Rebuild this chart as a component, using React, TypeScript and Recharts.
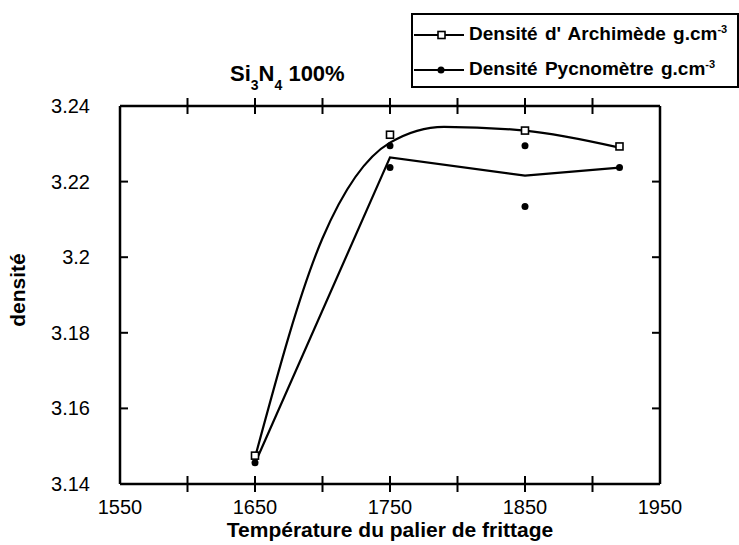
import React from 'react'
import { ComposedChart, Line, Scatter, XAxis, YAxis, Legend, Label } from 'recharts'

const FONT = '"Liberation Sans", Arial, Helvetica, sans-serif'

const archiTemps = [1650, 1750, 1850, 1920]
const archiValues = [3.1475, 3.2324, 3.2335, 3.2293]
const pycnoTemps = [1650, 1750, 1750, 1850, 1850, 1920]
const pycnoValues = [3.1456, 3.2295, 3.2237, 3.2295, 3.2134, 3.2237]

// drawn curves
const archiFitTemps = [1650, 1700, 1750, 1790, 1850, 1920]
const archiFitValues = [3.147, 3.205, 3.2303, 3.2345, 3.2335, 3.229]
const pycnoMeanTemps = [1650, 1750, 1850, 1920]
const pycnoMeanValues = [3.1455, 3.2264, 3.2216, 3.2237]

const xTicks = [1550, 1600, 1650, 1700, 1750, 1800, 1850, 1900, 1950]
const yTicks = [3.14, 3.16, 3.18, 3.2, 3.22, 3.24]

const zip = (ts: number[], vs: number[]) => ts.map((t, i) => ({ t, d: vs[i] }))

const archiData = zip(archiTemps, archiValues)
const pycnoData = zip(pycnoTemps, pycnoValues)
const archiFit = zip(archiFitTemps, archiFitValues)
const pycnoMean = zip(pycnoMeanTemps, pycnoMeanValues)

const BottomTick = (props: any) => {
  const { x, y, payload } = props
  const v = payload.value
  const inner = v !== 1550 && v !== 1950
  return (
    <g>
      {inner && <line x1={x} x2={x} y1={y - 8} y2={y + 8} stroke="#000" strokeWidth={2} />}
      {(v - 1550) % 100 === 0 && (
        <text x={x} y={y + 30} textAnchor="middle" fontSize={20} fontFamily={FONT} fill="#000">
          {v}
        </text>
      )}
    </g>
  )
}

const TopTick = (props: any) => {
  const { x, y, payload } = props
  if (payload.value === 1550 || payload.value === 1950) return <g />
  return <line x1={x} x2={x} y1={y - 8} y2={y + 8} stroke="#000" strokeWidth={2} />
}

const LeftTick = (props: any) => {
  const { x, y, payload } = props
  const v = payload.value
  const inner = v !== 3.14 && v !== 3.24
  return (
    <g>
      {inner && <line x1={x} x2={x + 8} y1={y} y2={y} stroke="#000" strokeWidth={2} />}
      <text x={x - 30} y={y + 7} textAnchor="end" fontSize={20} fontFamily={FONT} fill="#000">
        {v}
      </text>
    </g>
  )
}

const RightTick = (props: any) => {
  const { x, y, payload } = props
  if (payload.value === 3.14 || payload.value === 3.24) return <g />
  return <line x1={x - 8} x2={x} y1={y} y2={y} stroke="#000" strokeWidth={2} />
}

const TitleLabel = (props: any) => {
  const { viewBox } = props
  return (
    <text x={viewBox.x + 110} y={viewBox.y - 15} fontSize={22} fontWeight="bold" fontFamily={FONT} fill="#000">
      <tspan>Si</tspan>
      <tspan fontSize={14} dy={9}>3</tspan>
      <tspan dy={-9}>N</tspan>
      <tspan fontSize={14} dy={9}>4</tspan>
      <tspan dy={-9}> 100%</tspan>
    </text>
  )
}

const YTitle = (props: any) => {
  const { viewBox } = props
  const cx = viewBox.x - 35
  const cy = viewBox.y + viewBox.height / 2 - 5
  return (
    <text
      x={cx}
      y={cy}
      transform={`rotate(-90, ${cx}, ${cy})`}
      textAnchor="middle"
      fontSize={21}
      fontWeight="bold"
      fontFamily={FONT}
      fill="#000"
    >
      densité
    </text>
  )
}

const SquareMark = (props: any) => (
  <rect x={props.cx - 3.5} y={props.cy - 3.5} width={7} height={7} fill="#fff" stroke="#000" strokeWidth={1.6} />
)

const DotMark = (props: any) => <circle cx={props.cx} cy={props.cy} r={3.5} fill="#000" />

const LegendBox = () => {
  const row = (square: boolean, text: string) => (
    <div style={{ display: 'flex', alignItems: 'center', height: 35 }}>
      <svg width={56} height={14} style={{ flex: 'none' }}>
        <line x1={1} x2={51} y1={7} y2={7} stroke="#000" strokeWidth={2} />
        {square ? (
          <rect x={25} y={3.5} width={7} height={7} fill="#fff" stroke="#000" strokeWidth={1.6} />
        ) : (
          <circle cx={28} cy={7} r={3.5} fill="#000" />
        )}
      </svg>
      <span style={{ wordSpacing: 2 }}>
        {text}
        <sup style={{ fontSize: 11 }}>-3</sup>
      </span>
    </div>
  )
  return (
    <div
      style={{
        border: '2px solid #000',
        background: '#fff',
        fontFamily: FONT,
        fontWeight: 'bold',
        fontSize: 19,
        color: '#000',
        padding: '2px 0',
        whiteSpace: 'nowrap',
        boxSizing: 'border-box',
        height: 75,
      }}
    >
      {row(true, "Densité d' Archimède g.cm")}
      {row(false, 'Densité Pycnomètre g.cm')}
    </div>
  )
}

export default function App() {
  return (
    <div style={{ position: 'absolute', left: 0, top: 0, background: '#fff' }}>
      <ComposedChart width={739} height={545} margin={{ top: 96, right: 69, bottom: 6, left: 60 }}>
        <XAxis
          xAxisId="bottom"
          dataKey="t"
          type="number"
          domain={[1550, 1950]}
          ticks={xTicks}
          interval={0}
          height={55}
          tickSize={0}
          tickMargin={0}
          tick={<BottomTick />}
          axisLine={{ stroke: '#000', strokeWidth: 2.5 }}
          allowDataOverflow
        >
          <Label
            value="Température du palier de frittage"
            position="insideBottom"
            offset={2}
            fontSize={21}
            fontWeight="bold"
            fontFamily={FONT}
            fill="#000"
          />
        </XAxis>
        <XAxis
          xAxisId="top"
          orientation="top"
          dataKey="t"
          type="number"
          domain={[1550, 1950]}
          ticks={xTicks}
          interval={0}
          height={10}
          tickSize={0}
          tickMargin={0}
          tick={<TopTick />}
          axisLine={{ stroke: '#000', strokeWidth: 2.5 }}
          allowDataOverflow
        >
          <Label content={<TitleLabel />} />
        </XAxis>
        <YAxis
          yAxisId="left"
          type="number"
          domain={[3.14, 3.24]}
          ticks={yTicks}
          interval={0}
          width={60}
          tickSize={0}
          tickMargin={0}
          tick={<LeftTick />}
          axisLine={{ stroke: '#000', strokeWidth: 2.5 }}
          allowDataOverflow
        >
          <Label content={<YTitle />} />
        </YAxis>
        <YAxis
          yAxisId="right"
          orientation="right"
          type="number"
          domain={[3.14, 3.24]}
          ticks={yTicks}
          interval={0}
          width={10}
          tickSize={0}
          tickMargin={0}
          tick={<RightTick />}
          axisLine={{ stroke: '#000', strokeWidth: 2.5 }}
          allowDataOverflow
        />
        <Legend
          layout="vertical"
          align="center"
          verticalAlign="middle"
          content={<LegendBox />}
          wrapperStyle={{ left: 411, top: 13, width: 328, height: 75 }}
        />
        <Line
          xAxisId="bottom"
          yAxisId="left"
          data={archiFit}
          dataKey="d"
          type="monotone"
          stroke="#000"
          strokeWidth={2.2}
          dot={false}
          activeDot={false}
          isAnimationActive={false}
          name="Densité d' Archimède g.cm-3"
        />
        <Line
          xAxisId="bottom"
          yAxisId="left"
          data={pycnoMean}
          dataKey="d"
          type="linear"
          stroke="#000"
          strokeWidth={2.2}
          dot={false}
          activeDot={false}
          isAnimationActive={false}
          name="Densité Pycnomètre g.cm-3"
        />
        <Scatter
          xAxisId="bottom"
          yAxisId="left"
          data={archiData}
          dataKey="d"
          shape={<SquareMark />}
          isAnimationActive={false}
        />
        <Scatter
          xAxisId="bottom"
          yAxisId="left"
          data={pycnoData}
          dataKey="d"
          shape={<DotMark />}
          isAnimationActive={false}
        />
      </ComposedChart>
    </div>
  )
}
